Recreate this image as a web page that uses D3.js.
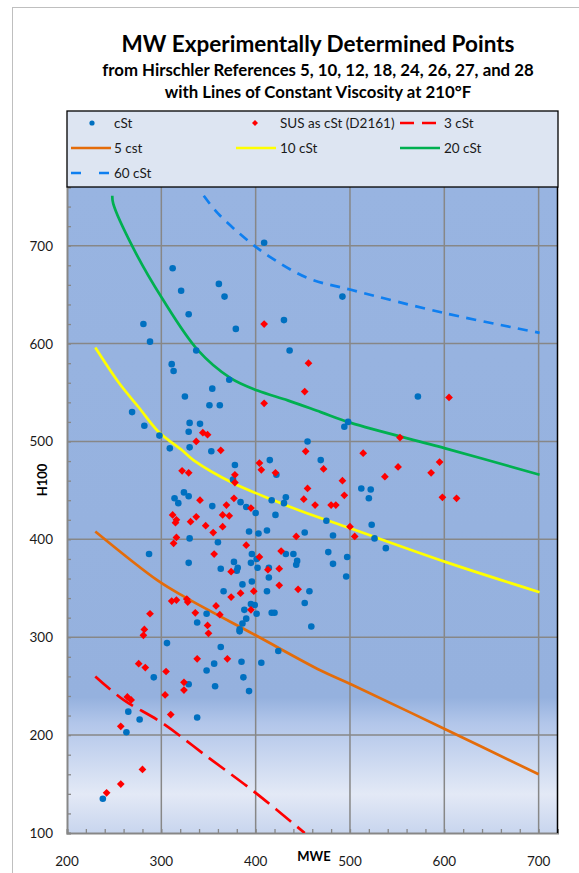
<!DOCTYPE html>
<html>
<head>
<meta charset="utf-8">
<script src="https://cdn.jsdelivr.net/npm/d3@7"></script>
<style>
  html, body { margin: 0; padding: 0; background: #ffffff; }
  svg { display: block; font-family: Lato, "Open Sans", sans-serif; }
</style>
</head>
<body>
<svg id="chart" width="579" height="873"></svg>
<script>
// Measured points: [MWE, H100]
const cStPoints = [
  [409,703],[312,677],[321,654],[361,661],[367,648],[329,630],[281,620],[288,602],[379,615],[430,624],
  [436,593],[337,593],[311,579],[313,572],[372,563],[354,554],[325,546],[492,648],[572,546],
  [351,537],[362,537],[269,530],[282,516],[298,506],[330,519],[341,518],[329,510],[309,493],[330,494],
  [353,490],[378,476],[376,461],[415,481],[422,466],[455,500],[469,481],[324,448],[329,444],[314,442],
  [318,437],[354,434],[384,438],[390,433],[400,427],[417,440],[432,443],[430,437],[421,425],[393,408],
  [403,406],[412,409],[452,407],[330,401],[360,397],[287,385],[329,376],[396,385],[401,380],[395,376],
  [377,377],[381,371],[380,368],[363,370],[402,371],[414,371],[414,361],[432,385],[440,385],[444,378],
  [443,374],[386,354],[396,357],[366,347],[412,347],[457,347],
  [498,520],[494,515],[512,452],[522,451],[520,442],[475,419],[482,404],[523,415],[526,401],[538,391],
  [477,387],[482,375],[497,382],[496,362],
  [452,335],[459,311],[388,328],[395,334],[399,333],[401,324],[390,319],[386,314],[383,308],[383,306],
  [348,324],[338,315],[417,325],[420,325],[424,286],[406,274],[385,275],[387,259],[393,245],[363,290],
  [356,273],[348,266],[357,250],[329,252],[338,218],[306,294],[292,259],[265,224],[277,216],[263,203],
  [238,135]
];

const susPoints = [
  [409,620],[456,580],[452,551],[605,545],
  [553,504],[453,490],[514,488],[472,472],[551,474],[595,479],[586,468],[492,460],[537,464],[455,452],
  [494,445],[451,441],[463,435],[480,435],[485,435],[598,443],[613,442],[500,413],[505,403],
  [409,539],[344,509],[349,507],[337,500],[363,491],[322,470],[329,468],[378,466],[378,458],[404,478],
  [406,471],[421,468],[377,442],[341,440],[369,435],[395,432],[312,425],[316,420],[315,417],[331,418],
  [337,423],[365,425],[372,424],[347,414],[365,413],[355,407],[316,402],[313,396],[443,403],[390,394],
  [356,385],[404,382],[427,388],[413,369],[425,370],[374,367],[425,353],[384,345],[398,347],[445,349],
  [374,341],
  [311,337],[316,338],[327,339],[328,336],[358,332],[362,323],[336,325],[395,328],[288,324],[282,308],
  [281,302],[349,312],[350,304],[338,278],[370,278],[276,273],[283,269],[305,265],[324,254],[324,246],
  [304,241],[264,239],[268,236],[310,221],[257,209],[280,165],[257,150],[242,141]
];

// Lines of constant viscosity at 210°F
const visc3 = [[230,260],[260,236],[300,213],[350,177],[400,141],[452,100]];
const visc5 = [[230,408],[296,358],[325,341],[400,302],[469,266],[501,252],[601,206],[700,160]];
const visc10 = [[230,596],[255,560],[276,535],[297,510],[322,491],[334,481],[377,457],[419,440],[448,429],[501,411],[601,377],[701,346]];
const visc20 = [[248,751],[249,743],[270,698],[301,646],[339,593],[373,565],[402,552],[434,542],[469,530],[501,519],[601,493],[701,466]];
const visc60 = [[345,751],[360,733],[392,705],[413,690],[455,667],[501,655],[601,631],[701,611]];

const xTicks = [200, 300, 400, 500, 600, 700];
const yTicks = [100, 200, 300, 400, 500, 600, 700];

const titleText = "MW Experimentally Determined Points";
const subtitleLines = [
  "from Hirschler References 5, 10, 12, 18, 24, 26, 27, and 28",
  "with Lines of Constant Viscosity at 210°F"
];
const xTitle = "MWE";
const yTitle = "H100";

const svg = d3.select("#chart");
const plot = { left: 67, right: 557.5, top: 187, bottom: 833 };

const x = d3.scaleLinear().domain([200, 720]).range([plot.left, plot.right]);
const y = d3.scaleLinear().domain([100, 760]).range([plot.bottom, plot.top]);

const BLUE = "#0070c0", RED = "#ff0000";
const lineSeries = [
  { name: "3 cSt",  data: visc3,  color: "#ff0000", dash: "20,8" },
  { name: "5 cst",  data: visc5,  color: "#e46c0a", dash: null },
  { name: "10 cSt", data: visc10, color: "#ffff00", dash: null },
  { name: "20 cSt", data: visc20, color: "#00b050", dash: null },
  { name: "60 cSt", data: visc60, color: "#0f7ff0", dash: "10,7.5" }
];

// chart outer border
svg.append("rect").attr("x", 12.5).attr("y", 7.5).attr("width", 700).attr("height", 900)
  .attr("fill", "#fff").attr("stroke", "#bfbfbf").attr("stroke-width", 1);

// titles
svg.append("text").attr("x", 318).attr("y", 52).attr("text-anchor", "middle")
  .attr("font-size", 22.5).attr("font-weight", 700).attr("fill", "#000").text(titleText);
subtitleLines.forEach((t, i) => {
  svg.append("text").attr("x", 318).attr("y", 76 + i * 22).attr("text-anchor", "middle")
    .attr("font-size", 16.8).attr("font-weight", 700).attr("fill", "#000").text(t);
});

// plot background gradient
const defs = svg.append("defs");
const grad = defs.append("linearGradient").attr("id", "plotBg")
  .attr("x1", 0).attr("y1", 0).attr("x2", 0).attr("y2", 1);
[[0, "#98b4e1"], [0.79, "#95b1de"], [0.83, "#b2c6ea"], [0.94, "#e3e9f6"], [1, "#c8d5ee"]]
  .forEach(([o, c]) => grad.append("stop").attr("offset", o).attr("stop-color", c));
defs.append("clipPath").attr("id", "plotClip").append("rect")
  .attr("x", plot.left).attr("y", plot.top)
  .attr("width", plot.right - plot.left).attr("height", plot.bottom - plot.top);

svg.append("rect").attr("x", plot.left).attr("y", plot.top)
  .attr("width", plot.right - plot.left).attr("height", plot.bottom - plot.top)
  .attr("fill", "url(#plotBg)");

// gridlines
const grid = svg.append("g").attr("stroke", "#878787").attr("stroke-width", 1.5);
xTicks.filter(v => v > 200).forEach(v => {
  grid.append("line").attr("x1", x(v)).attr("x2", x(v)).attr("y1", plot.top).attr("y2", plot.bottom);
});
yTicks.filter(v => v > 100).forEach(v => {
  grid.append("line").attr("x1", plot.left).attr("x2", plot.right).attr("y1", y(v)).attr("y2", y(v));
});

// axes with inner minor ticks every 20
const minorX = d3.range(200, 721, 20);
const minorY = d3.range(100, 761, 20);
const xAxis = d3.axisBottom(x).tickValues(minorX).tickSize(-4).tickFormat("");
const yAxis = d3.axisLeft(y).tickValues(minorY).tickSize(-4).tickFormat("");
const gx = svg.append("g").attr("transform", `translate(0,${plot.bottom})`).call(xAxis);
const gy = svg.append("g").attr("transform", `translate(${plot.left},0)`).call(yAxis);
[gx, gy].forEach(g => {
  g.select(".domain").attr("stroke", "#878787").attr("stroke-width", 2);
  g.selectAll(".tick line").attr("stroke", "#878787").attr("stroke-width", 1.3);
});

// tick labels
svg.append("g").selectAll("text").data(xTicks).join("text")
  .attr("x", d => x(d)).attr("y", 866).attr("text-anchor", "middle")
  .attr("font-size", 13.5).attr("fill", "#1a1a1a").text(d => d);
svg.append("g").selectAll("text").data(yTicks).join("text")
  .attr("x", 53).attr("y", d => y(d) + 5).attr("text-anchor", "end")
  .attr("font-size", 13.5).attr("fill", "#1a1a1a").text(d => d);

svg.append("text").attr("x", 314).attr("y", 861).attr("text-anchor", "middle")
  .attr("font-size", 13).attr("font-weight", 700).attr("fill", "#000").text(xTitle);
svg.append("text").attr("transform", "translate(47,480) rotate(-90)").attr("text-anchor", "middle")
  .attr("font-size", 13).attr("font-weight", 700).attr("fill", "#000").text(yTitle);

// viscosity lines
const lineGen = d3.line().x(d => x(d[0])).y(d => y(d[1])).curve(d3.curveCatmullRom.alpha(0.5));
const lg = svg.append("g").attr("clip-path", "url(#plotClip)");
lineSeries.forEach(s => {
  lg.append("path").attr("d", lineGen(s.data)).attr("fill", "none")
    .attr("stroke", s.color).attr("stroke-width", 2.7)
    .attr("stroke-dasharray", s.dash).attr("stroke-linecap", "butt");
});

// points
const diamond = d3.symbol().type(d3.symbolSquare).size(30);
svg.append("g").selectAll("circle").data(cStPoints).join("circle")
  .attr("cx", d => x(d[0])).attr("cy", d => y(d[1])).attr("r", 3.3).attr("fill", BLUE);
svg.append("g").selectAll("path").data(susPoints).join("path")
  .attr("d", diamond).attr("fill", RED)
  .attr("transform", d => `translate(${x(d[0])},${y(d[1])}) rotate(45)`);

// right frame edge
svg.append("line").attr("x1", plot.right).attr("x2", plot.right).attr("y1", plot.top).attr("y2", plot.bottom)
  .attr("stroke", "#000").attr("stroke-width", 1.5);

// legend
const legend = svg.append("g");
legend.append("rect").attr("x", 67).attr("y", 111).attr("width", 491).attr("height", 76)
  .attr("fill", "#dde5f2").attr("stroke", "#000").attr("stroke-width", 1.3);
const legFont = 13.5;
function legText(tx, ty, t) {
  legend.append("text").attr("x", tx).attr("y", ty + 5).attr("font-size", legFont)
    .attr("fill", "#1a1a1a").text(t);
}
function legLine(x1, x2, ly, s) {
  legend.append("line").attr("x1", x1).attr("x2", x2).attr("y1", ly).attr("y2", ly)
    .attr("stroke", s.color).attr("stroke-width", 2.7).attr("stroke-dasharray", s.dash);
}
legend.append("circle").attr("cx", 92).attr("cy", 123).attr("r", 2.6).attr("fill", BLUE);
legText(114, 123, "cSt");
legend.append("path").attr("d", d3.symbol().type(d3.symbolSquare).size(18))
  .attr("transform", "translate(255,123) rotate(45)").attr("fill", RED);
legText(280, 123, "SUS as cSt (D2161)");
legLine(400, 441, 123, { color: lineSeries[0].color, dash: "14,8" });
legText(444, 123, lineSeries[0].name);
legLine(71, 111, 148, lineSeries[1]);
legText(114, 148, lineSeries[1].name);
legLine(236, 276, 148, lineSeries[2]);
legText(280, 148, lineSeries[2].name);
legLine(400, 440, 148, lineSeries[3]);
legText(444, 148, lineSeries[3].name);
legLine(71, 111, 173, { color: lineSeries[4].color, dash: "10,18" });
legText(114, 173, lineSeries[4].name);
</script>
</body>
</html>
